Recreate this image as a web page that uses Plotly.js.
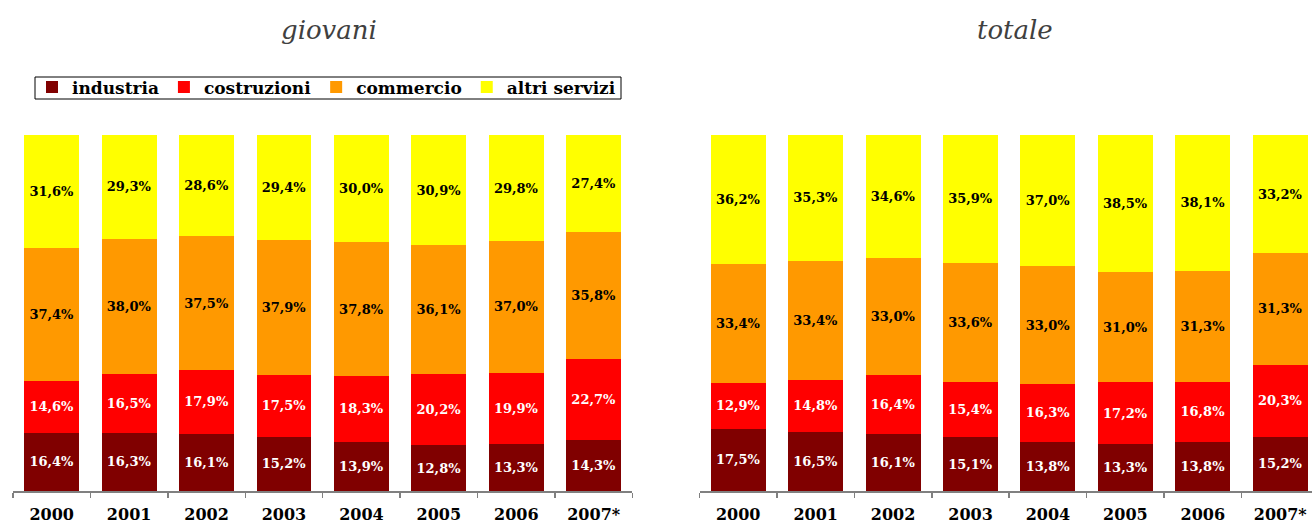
<!DOCTYPE html>
<html><head><meta charset="utf-8">
<script src="https://cdn.plot.ly/plotly-3.0.1.min.js"></script>
<style>body{margin:0;background:#fff}#c{width:1312px;height:525px}</style>
</head><body><div id="c"></div>
<script>
const years = ['2000','2001','2002','2003','2004','2005','2006','2007*'];
const seriesNames = ['industria','costruzioni','commercio','altri servizi'];
const colors = ['#800000','#ff0000','#ff9900','#ffff00'];
const textColors = ['#ffffff','#ffffff','#000000','#000000'];

const giovaniIndustria   = [16.4,16.3,16.1,15.2,13.9,12.8,13.3,14.3];
const giovaniCostruzioni = [14.6,16.5,17.9,17.5,18.3,20.2,19.9,22.7];
const giovaniCommercio   = [37.4,38.0,37.5,37.9,37.8,36.1,37.0,35.8];
const giovaniAltri       = [31.6,29.3,28.6,29.4,30.0,30.9,29.8,27.4];

const totaleIndustria   = [17.5,16.5,16.1,15.1,13.8,13.3,13.8,15.2];
const totaleCostruzioni = [12.9,14.8,16.4,15.4,16.3,17.2,16.8,20.3];
const totaleCommercio   = [33.4,33.4,33.0,33.6,33.0,31.0,31.3,31.3];
const totaleAltri       = [36.2,35.3,34.6,35.9,37.0,38.5,38.1,33.2];

const giovani = [giovaniIndustria, giovaniCostruzioni, giovaniCommercio, giovaniAltri];
const totale = [totaleIndustria, totaleCostruzioni, totaleCommercio, totaleAltri];

const F = 'DejaVu Serif';
const traces = [];
function add(data, xa, ya, show){
  data.forEach((vals,i)=>{
    traces.push({
      type:'bar', x:years, y:vals, name:seriesNames[i],
      xaxis:xa, yaxis:ya, showlegend:show, legendgroup:seriesNames[i],
      marker:{color:colors[i], line:{width:0}},
      texttemplate:'<b>%{y:.1f}%</b>', textposition:'inside',
      insidetextanchor:'middle', constraintext:'none',
      textfont:{family:F, size:13, color:textColors[i]},
      hoverinfo:'skip'
    });
  });
}
add(giovani,'x','y',true);
add(totale,'x2','y2',false);

const W=1312, H=525, T=135, B=34;
const px = v => v/W;
const py = v => (H-B-v)/(H-T-B);

const xcommon = {
  type:'category', showgrid:false, zeroline:false,
  showline:true, linecolor:'#808080', linewidth:1.5,
  ticks:'outside', tickson:'boundaries', ticklen:5, tickcolor:'#808080', tickwidth:1.5,
  tickfont:{family:F, size:16, color:'#000', weight:'bold'},
  ticklabelstandoff:8, fixedrange:true
};
const ycommon = {range:[0,100], visible:false, fixedrange:true};

const layout = {
  width:W, height:H, margin:{l:0,r:0,t:T,b:B,pad:0},
  paper_bgcolor:'#fff', plot_bgcolor:'#fff',
  barmode:'stack', bargap:0.29, separators:',.',
  xaxis:Object.assign({}, xcommon, {domain:[px(13), px(632.4)], anchor:'y', range:[-0.5,7.5]}),
  yaxis:Object.assign({}, ycommon, {anchor:'x'}),
  xaxis2:Object.assign({}, xcommon, {domain:[px(699.5), 1], anchor:'y2', range:[-0.5,7.41]}),
  yaxis2:Object.assign({}, ycommon, {anchor:'x2'}),
  legend:{orientation:'h', x:px(32), xanchor:'left', y:py(69.5), yanchor:'top',
    borderwidth:0, bgcolor:'rgba(0,0,0,0)', traceorder:'normal',
    font:{family:F, size:17, color:'#000', weight:'bold'}, itemclick:false},
  shapes:[
    {type:'rect', xref:'paper', yref:'paper', x0:px(35), x1:px(621), y0:py(77), y1:py(99),
     line:{color:'#000', width:1}, fillcolor:'rgba(0,0,0,0)', layer:'below'}
  ],
  annotations:[
    {text:'giovani', xref:'paper', yref:'paper', x:px(329), y:py(30), xanchor:'center', yanchor:'middle',
     showarrow:false, font:{family:F, size:26, color:'#404040', style:'italic'}},
    {text:'totale', xref:'paper', yref:'paper', x:px(1015), y:py(30), xanchor:'center', yanchor:'middle',
     showarrow:false, font:{family:F, size:26, color:'#404040', style:'italic'}}
  ]
};
Plotly.newPlot('c', traces, layout, {displayModeBar:false, staticPlot:true});
</script></body></html>
